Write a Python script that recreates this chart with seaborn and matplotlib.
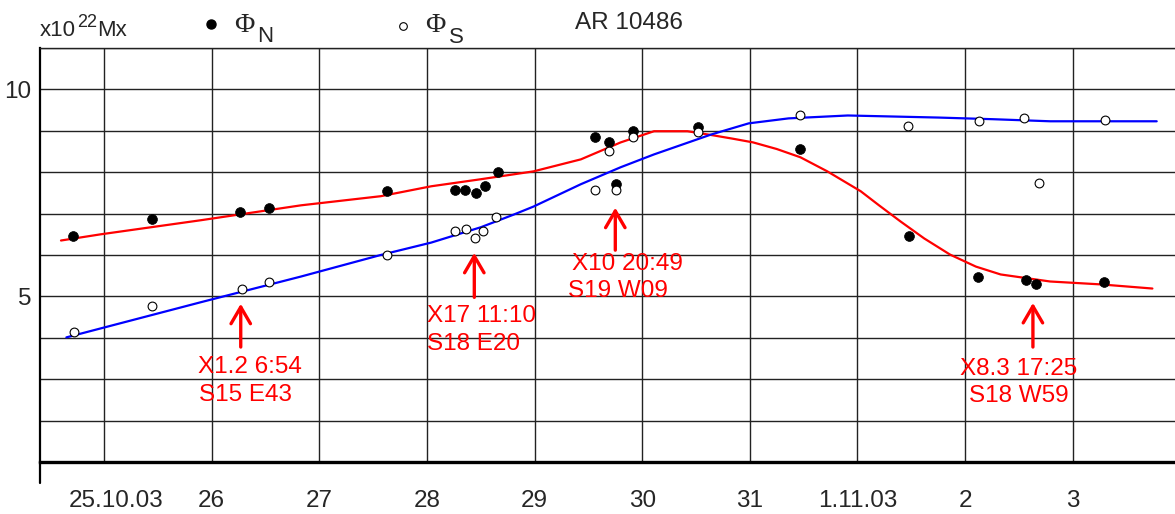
import matplotlib
matplotlib.use('Agg')
import matplotlib.pyplot as plt
import matplotlib.transforms as mtransforms
import seaborn as sns
import pandas as pd

# days counted from 1 Oct 2003 (1 Nov = 32)
tick_pos = [25, 26, 27, 28, 29, 30, 31, 32, 33, 34]
tick_labels = ['25.10.03', '26', '27', '28', '29', '30', '31', '1.11.03', '2', '3']

# measured fluxes, 10^22 Mx
t_n = [24.71, 25.45, 26.26, 26.53, 27.63, 28.26, 28.35, 28.46, 28.54, 28.66,
       29.56, 29.69, 29.91, 29.76, 30.52, 31.47, 32.48, 33.12, 33.57, 33.66, 34.29]
phi_n = [6.45, 6.88, 7.03, 7.13, 7.54, 7.58, 7.58, 7.49, 7.66, 8.00,
         8.86, 8.72, 8.99, 7.71, 9.08, 8.55, 6.47, 5.48, 5.39, 5.29, 5.34]

t_s = [24.72, 25.45, 26.28, 26.53, 27.63, 28.26, 28.36, 28.45, 28.52, 28.64,
       29.56, 29.76, 29.69, 29.91, 30.52, 31.47, 32.47, 33.13, 33.55, 33.69, 34.30]
phi_s = [4.15, 4.76, 5.19, 5.34, 6.01, 6.57, 6.62, 6.42, 6.59, 6.91,
         7.58, 7.56, 8.50, 8.84, 8.96, 9.37, 9.11, 9.23, 9.32, 7.75, 9.27]

# smooth fits
fit_n_t = [24.60, 24.97, 25.90, 26.83, 27.57, 28.04, 28.50, 28.99, 29.43, 29.80, 30.11,
           30.42, 30.66, 30.84, 31.03, 31.25, 31.47, 31.72, 32.03, 32.20, 32.40, 32.62,
           32.86, 33.10, 33.33, 33.79, 34.26, 34.74]
fit_n = [6.35, 6.50, 6.84, 7.20, 7.42, 7.66, 7.83, 8.02, 8.31, 8.72, 8.99,
         8.99, 8.89, 8.81, 8.72, 8.56, 8.36, 8.02, 7.54, 7.20, 6.81, 6.40,
         6.01, 5.72, 5.53, 5.36, 5.29, 5.19]

fit_s_t = [24.65, 25.90, 26.83, 27.57, 28.04, 28.50, 28.81, 28.99, 29.43, 29.80,
           30.11, 30.64, 30.99, 31.36, 31.91, 32.75, 33.26, 33.79, 34.78]
fit_s = [4.01, 4.86, 5.48, 6.00, 6.30, 6.67, 6.98, 7.17, 7.71, 8.12,
         8.43, 8.91, 9.18, 9.30, 9.37, 9.32, 9.28, 9.23, 9.23]

flares = [('X1.2 6:54', 'S15 E43'), ('X17 11:10', 'S18 E20'),
          ('X10 20:49', 'S19 W09'), ('X8.3 17:25', 'S18 W59')]
flare_t = [26.27, 28.44, 29.75, 33.63]

sns.set_style('white')
plt.rcParams['font.family'] = ['Liberation Sans', 'DejaVu Sans']

W, H = 1175, 514
fig = plt.figure(figsize=(W / 100, H / 100), dpi=100)
ax = fig.add_axes([40 / W, (H - 462) / H, 1135 / W, (462 - 48) / H])

df_n = pd.DataFrame({'t': fit_n_t, 'phi': fit_n})
df_s = pd.DataFrame({'t': fit_s_t, 'phi': fit_s})
sns.lineplot(data=df_n, x='t', y='phi', color='#ff0000', lw=1.6, ax=ax, zorder=3)
sns.lineplot(data=df_s, x='t', y='phi', color='#0000ff', lw=1.6, ax=ax, zorder=3)

sns.scatterplot(x=t_n, y=phi_n, color='black', s=50, edgecolor='black', linewidth=0.5, ax=ax, zorder=4)
sns.scatterplot(x=t_s, y=phi_s, color='white', s=40, edgecolor='black', linewidth=0.8, ax=ax, zorder=4)

ax.set_xlim(24.405, 34.95)
ax.set_ylim(1, 11)
ax.set_xticks(tick_pos)
ax.set_xticklabels(tick_labels, fontsize=17.5)
ax.set_yticks(range(1, 12))
ax.set_yticklabels(['' if v not in (5, 10) else str(v) for v in range(1, 12)], fontsize=17.5)
ax.tick_params(axis='x', direction='out', length=12, width=2, color='black', pad=8)
ax.tick_params(axis='y', length=0, pad=6)
ax.grid(True, color='#222222', lw=1.0)
ax.set_xlabel('')
ax.set_ylabel('')
ax.spines['right'].set_visible(False)
ax.spines['top'].set_linewidth(1.0)
ax.spines['top'].set_color('#222222')
ax.spines['left'].set_linewidth(1.6)
ax.spines['left'].set_color('black')
ax.spines['bottom'].set_linewidth(2.4)
ax.spines['bottom'].set_color('black')
ax.plot([0, 0], [-0.05, 0], transform=ax.transAxes, color='black', lw=1.6, clip_on=False)

# first date label sits a little to the right of its tick
first = ax.get_xticklabels()[0]
first.set_transform(first.get_transform() + mtransforms.ScaledTranslation(0.12, 0, fig.dpi_scale_trans))

# flare arrows and labels
arrow_tip = [4.89, 6.12, 7.21, 4.91]
arrow_tail = [3.71, 4.91, 6.05, 3.71]
text_pos = [((25.87, 3.15), (25.88, 2.47)), ((28.00, 4.38), (28.00, 3.71)),
            ((29.35, 5.64), (29.31, 4.99)), ((32.95, 3.10), (33.04, 2.45))]
for (l1, l2), t, tip, tail, (p1, p2) in zip(flares, flare_t, arrow_tip, arrow_tail, text_pos):
    ax.annotate('', xy=(t, tip), xytext=(t, tail),
                arrowprops=dict(arrowstyle='->,head_length=0.6,head_width=0.35',
                                color='#ff0000', lw=2.4, mutation_scale=20), zorder=5)
    ax.text(p1[0], p1[1], l1, color='#ff0000', fontsize=17.5, ha='left', va='baseline', zorder=5)
    ax.text(p2[0], p2[1], l2, color='#ff0000', fontsize=17.5, ha='left', va='baseline', zorder=5)

# header legend
def fx(px):
    return px / W

def fy(py):
    return 1 - py / H

fig.text(fx(40), fy(36), 'x10', fontsize=16, va='baseline')
fig.text(fx(77), fy(27), '22', fontsize=13, va='baseline')
fig.text(fx(97), fy(36), 'Mx', fontsize=16, va='baseline')
fig.add_artist(plt.Line2D([fx(211)], [fy(24)], marker='o', ms=6.5, color='black', mec='black'))
fig.text(fx(234), fy(32), '\u03a6', fontsize=20, family='Liberation Serif', va='baseline')
fig.text(fx(257), fy(42), 'N', fontsize=16, va='baseline')
fig.add_artist(plt.Line2D([fx(403)], [fy(26)], marker='o', ms=5.5, color='white', mec='black', mew=0.8))
fig.text(fx(425), fy(32), '\u03a6', fontsize=20, family='Liberation Serif', va='baseline')
fig.text(fx(449), fy(43), 'S', fontsize=16, va='baseline')
fig.text(fx(575), fy(29), 'AR 10486', fontsize=17.5, va='baseline')

fig.savefig('out.png', dpi=100)
